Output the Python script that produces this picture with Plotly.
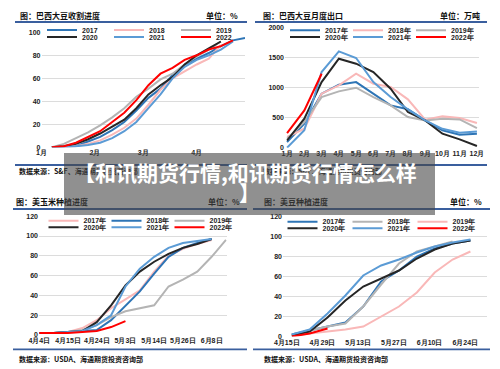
import plotly.graph_objects as go

W, H = 500, 369

# ---------------- data ----------------
# Panel 1: Brazil soybean harvest progress (%)
harvest_dates = ["2022-01-07", "2022-01-14", "2022-01-21", "2022-01-28", "2022-02-04",
                 "2022-02-11", "2022-02-18", "2022-02-25", "2022-03-04", "2022-03-11",
                 "2022-03-18", "2022-03-25", "2022-04-01", "2022-04-08", "2022-04-15",
                 "2022-04-22", "2022-04-29"]
harvest_2017 = [0, 0.5, 1, 5, 9, 15, 22, 32, 43, 51, 63, 72, 77, 82, 88, 93, 95]
harvest_2018 = [0, 0, 1, 3, 6, 11, 17, 25, 37, 50, 60, 66, 72, 77, 89, None, None]
harvest_2019 = [0, 3, 8, 13, 19, 26, 34, 44, 51, 59, 64, 72, 79, 85, 92, None, None]
harvest_2020 = [0, 1, 3, 7, 12, 18, 24, 34, 46, 54, 61, 72, 80, 86, 92, None, None]
harvest_2021 = [0, 0, 1, 2, 4, 8, 14, 22, 34, 46, 60, 70, 76, 80, 85, 92, None]
harvest_2022 = [0, 1, 4, 9, 14, 22, 30, 41, 54, 64, 69, 76, 80, 85, 88, 93, None]
harvest_ticks = ["2022-01-01", "2022-02-01", "2022-03-01", "2022-04-01"]
harvest_ticktext = ["1月", "2月", "3月", "4月"]

# Panel 2: Brazil soybean monthly exports (10k t)
months = ["1月", "2月", "3月", "4月", "5月", "6月", "7月", "8月", "9月", "10月", "11月", "12月"]
export_2017 = [94, 400, 900, 1050, 1094, 900, 705, 640, 455, 290, 217, 233]
export_2018 = [178, 317, 900, 1040, 1233, 1067, 1011, 806, 467, 522, 494, 411]
export_2019 = [150, 428, 844, 939, 1000, 844, 706, 511, 455, 483, 472, 328]
export_2020 = [120, 483, 1094, 1483, 1400, 1261, 983, 594, 455, 233, 139, 28]
export_2021 = [0, 290, 1260, 1605, 1495, 1095, 845, 640, 455, 315, 250, 270]
export_2022 = [244, 622, 1233]

# Panel 3: US corn planting progress (%)
corn_week = list(range(14))
corn_2017 = [2, 2, 3, 7, 15, 27, 36, 45, 64, 80, 87, 92, 96]
corn_2018 = [2, 2, 3, 4, 5, 15, 30, 44, 62, 79, 88, 93, 97]
corn_2019 = [2, 2, 3, 5, 10, 18, 24, 27, 30, 49, 56, 64, 79, 96]
corn_2020 = [2, 2, 3, 4, 13, 30, 50, 64, 74, 82, 88, 92, 97]
corn_2021 = [2, 2, 3, 4, 10, 20, 49, 67, 79, 88, 93, 95, 97]
corn_2022 = [2, 2, 2, 3, 4, 8, 14]
corn_tickvals = [0, 2, 4, 6, 8, 10, 12]
corn_ticktext = ["4月4日", "4月15日", "4月24日", "5月3日", "5月14日", "5月26日", "6月8日"]

# Panel 4: US soybean planting progress (%)
soy_dates = ["2022-04-17", "2022-04-24", "2022-05-01", "2022-05-08", "2022-05-15",
             "2022-05-22", "2022-05-29", "2022-06-05", "2022-06-12", "2022-06-19", "2022-06-26"]
soy_2017 = [2, 6, 10, 14, 30, 55, 66, 80, 88, 93, 96]
soy_2018 = [2, 6, 10, 13, 30, 52, 73, 85, 90, 95, None]
soy_2019 = [1, 3, 5, 7, 10, 20, 30, 44, 64, 77, 85]
soy_2020 = [1, 5, 19, 36, 50, 58, 66, 78, 87, 93, 96]
soy_2021 = [2, 7, 23, 41, 61, 71, 77, 84, 90, 94, 97]
soy_2022 = [0, 3, 8]
soy_tickvals = ["2022-04-15", "2022-04-29", "2022-05-13", "2022-05-27", "2022-06-10", "2022-06-24"]
soy_ticktext = ["4月15日", "4月29日", "5月13日", "5月27日", "6月10日", "6月24日"]

# ---------------- styles ----------------
BLUE_D = "#2e75b6"
BLUE_L = "#5b9bd5"
PINK = "#f9b8b8"
GRAY = "#b4b4b4"
BLACK = "#262626"
RED = "#ff0000"
HEAD = "#3a5f9e"
GRID = "#dcdcdc"
NUMFONT = "Liberation Sans"
CJK = "Noto Sans CJK SC"


def px(x):
    return x / W


def py(y):
    return 1 - y / H


fig = go.Figure()


def add(x, y, name, color, xa, ya, legend):
    fig.add_trace(go.Scatter(x=x, y=y, name=name, mode="lines",
                             line=dict(color=color, width=2),
                             xaxis=xa, yaxis=ya, legend=legend,
                             connectgaps=False, hoverinfo="skip"))


# panel 1
add(harvest_dates, harvest_2017, "2017", BLUE_D, "x", "y", "legend")
add(harvest_dates, harvest_2018, "2018", PINK, "x", "y", "legend")
add(harvest_dates, harvest_2019, "2019", GRAY, "x", "y", "legend")
add(harvest_dates, harvest_2020, "2020", BLACK, "x", "y", "legend2")
add(harvest_dates, harvest_2021, "2021", BLUE_L, "x", "y", "legend2")
add(harvest_dates[:len(harvest_2022)], harvest_2022, "2022", RED, "x", "y", "legend2")

# panel 2
add(months, export_2017, "2017年", BLUE_D, "x2", "y2", "legend3")
add(months, export_2018, "2018年", PINK, "x2", "y2", "legend3")
add(months, export_2019, "2019年", GRAY, "x2", "y2", "legend3")
add(months, export_2020, "2020年", BLACK, "x2", "y2", "legend4")
add(months, export_2021, "2021年", BLUE_L, "x2", "y2", "legend4")
add(months[:len(export_2022)], export_2022, "2022年", RED, "x2", "y2", "legend4")

# panel 3
add(corn_week[:len(corn_2017)], corn_2017, "2017年", PINK, "x3", "y3", "legend5")
add(corn_week[:len(corn_2018)], corn_2018, "2018年", BLUE_D, "x3", "y3", "legend5")
add(corn_week[:len(corn_2019)], corn_2019, "2019年", GRAY, "x3", "y3", "legend5")
add(corn_week[:len(corn_2020)], corn_2020, "2020年", BLACK, "x3", "y3", "legend6")
add(corn_week[:len(corn_2021)], corn_2021, "2021年", BLUE_L, "x3", "y3", "legend6")
add(corn_week[:len(corn_2022)], corn_2022, "2022年", RED, "x3", "y3", "legend6")

# panel 4
add(soy_dates, soy_2017, "2017年", BLUE_D, "x4", "y4", "legend7")
add(soy_dates, soy_2018, "2018年", GRAY, "x4", "y4", "legend7")
add(soy_dates, soy_2019, "2019年", PINK, "x4", "y4", "legend7")
add(soy_dates, soy_2020, "2020年", BLACK, "x4", "y4", "legend8")
add(soy_dates, soy_2021, "2021年", BLUE_L, "x4", "y4", "legend8")
add(soy_dates[:len(soy_2022)], soy_2022, "2022年", RED, "x4", "y4", "legend8")

tickfont = dict(family=NUMFONT, size=7, color="#222", weight="bold")
xcommon = dict(showgrid=False, zeroline=False, showline=False, ticks="",
               tickfont=tickfont, fixedrange=True, automargin=False)
ycommon = dict(showgrid=True, gridcolor=GRID, gridwidth=1, zeroline=False,
               showline=False, ticks="", tickfont=tickfont, fixedrange=True,
               automargin=False)


def leg(x, y, ew):
    return dict(x=px(x), y=py(y), xanchor="left", yanchor="middle",
                orientation="h", bgcolor="rgba(0,0,0,0)", borderwidth=0,
                font=dict(family=NUMFONT, size=7, color="#222", weight="bold"),
                entrywidth=ew, entrywidthmode="pixels", itemclick=False,
                itemdoubleclick=False)


fig.update_layout(
    width=W, height=H, margin=dict(l=0, r=0, t=0, b=0, autoexpand=False),
    paper_bgcolor="white", plot_bgcolor="white",
    xaxis=dict(type="date", domain=[px(41.5), px(245)],
               range=["2022-01-01", "2022-04-29"],
               tickvals=harvest_ticks, ticktext=harvest_ticktext,
               anchor="y", **xcommon),
    yaxis=dict(domain=[py(147.3), py(32.3)], range=[0, 100],
               tickvals=[0, 20, 40, 60, 80, 100], anchor="x", **ycommon),
    xaxis2=dict(type="category", domain=[px(285), px(479)],
                range=[-0.12, 11.12], anchor="y2", **xcommon),
    yaxis2=dict(domain=[py(147.7), py(27.7)], range=[0, 2000],
                tickvals=[0, 500, 1000, 1500, 2000], anchor="x2", **ycommon),
    xaxis3=dict(domain=[px(39), px(226.7)], range=[-0.02, 13.05],
                tickvals=corn_tickvals, ticktext=corn_ticktext,
                anchor="y3", **xcommon),
    yaxis3=dict(domain=[py(335), py(216.2)], range=[0, 120],
                tickvals=[0, 20, 40, 60, 80, 100, 120], anchor="x3", **ycommon),
    xaxis4=dict(type="date", domain=[px(283), px(487)],
                range=["2022-04-13 13:00", "2022-07-02 12:00"],
                tickvals=soy_tickvals, ticktext=soy_ticktext,
                anchor="y4", **xcommon),
    yaxis4=dict(domain=[py(336.5), py(216.5)], range=[0, 120],
                tickvals=[0, 20, 40, 60, 80, 100, 120], anchor="x4", **ycommon),
    legend=leg(42, 30, 22), legend2=leg(42, 37, 22),
    legend3=leg(285, 30.3, 18), legend4=leg(285, 37, 18),
    legend5=leg(43.5, 220.7, 18), legend6=leg(43.5, 227.3, 18),
    legend7=leg(282.5, 221.7, 20), legend8=leg(282.5, 228.3, 20),
)

# header / footer rules
for (x0, x1, y) in [(15, 247, 22), (255, 487, 22), (15, 247, 165), (255, 487, 165),
                    (13, 247, 209), (253, 490, 209), (13, 247, 349.3), (253, 490, 349.3)]:
    fig.add_shape(type="line", xref="paper", yref="paper",
                  x0=px(x0), x1=px(x1), y0=py(y), y1=py(y),
                  line=dict(color=HEAD, width=1.8))

titlefont = dict(family=CJK, size=8, color="#111", weight="bold")
srcfont = dict(family=CJK, size=7, color="#111", weight="bold")


def text(x, y, t, anchor, font):
    fig.add_annotation(xref="paper", yref="paper", x=px(x), y=py(y), text=t,
                       showarrow=False, xanchor=anchor, yanchor="middle", font=font)


text(18, 15, "图：巴西大豆收割进度", "left", titlefont)
text(240, 15, "单位：%", "right", titlefont)
text(261, 15, "图：巴西大豆月度出口", "left", titlefont)
text(482, 15, "单位：万吨", "right", titlefont)
text(14, 201, "图：美玉米种植进度", "left", titlefont)
text(242, 201, "单位：%", "right", titlefont)
text(262, 201, "图：美豆种植进度", "left", titlefont)
text(484, 201, "单位：%", "right", titlefont)

text(17, 171.5, "数据来源：S&F、海通期货投资咨询部", "left", srcfont)
text(261, 171.5, "数据来源：S&F、海通期货投资咨询部", "left", srcfont)
text(17, 358.5, "数据来源：USDA、海通期货投资咨询部", "left", srcfont)
text(262, 358.5, "数据来源：USDA、海通期货投资咨询部", "left", srcfont)

# translucent banner
fig.add_annotation(xref="paper", yref="paper", x=px(249.5), y=py(184), text=" ",
                   showarrow=False, xanchor="center", yanchor="middle",
                   width=371, height=62, bgcolor="rgba(70,70,70,0.6)",
                   borderpad=0, borderwidth=0)
bannerfont = dict(family=CJK, size=21, color="white", weight="bold")
text(245, 171.7, "【和讯期货行情,和讯期货行情怎么样", "center", bannerfont)
text(249.5, 191.7, "】", "center", bannerfont)

fig.write_html("out.html",
               config={"displayModeBar": False},
               post_script="document.body.style.margin='0';"
                           "document.body.style.overflow='hidden';")
